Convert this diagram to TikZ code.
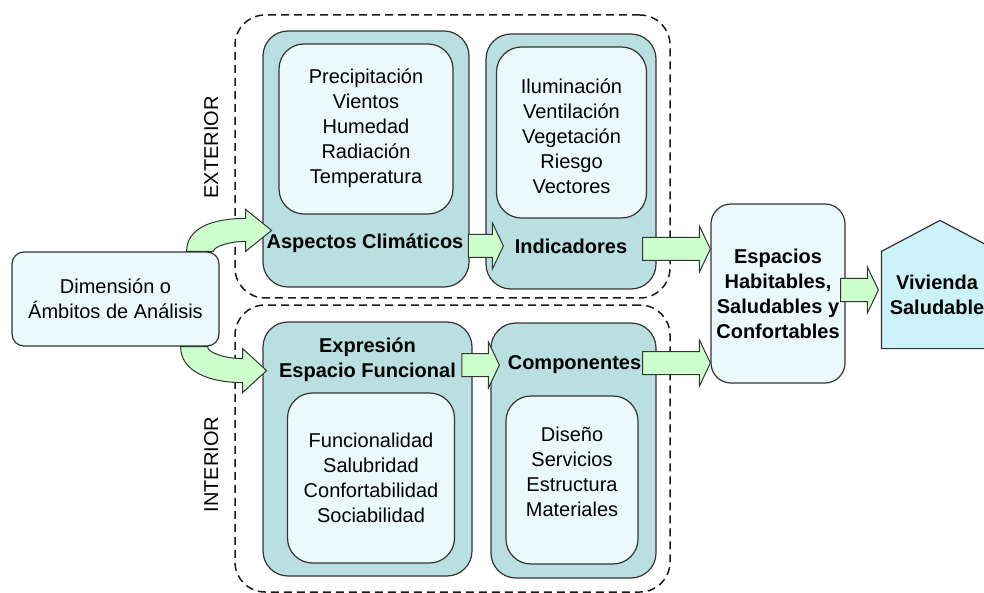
\documentclass[tikz,border=0pt]{standalone}
\usepackage{fontspec}
\setmainfont{Liberation Sans}
\usetikzlibrary{calc}

\definecolor{tealbox}{HTML}{B9DFE1}
\definecolor{lightbox}{HTML}{EBF9FD}
\definecolor{arrgreen}{HTML}{CCFFCC}
\definecolor{housecol}{HTML}{CCF3F9}

\newcommand{\blockarrow}[2]{%
    \draw[greenarr] let \p1=(#1), \p2=(#2) in
        (\x1,\y1+11.5pt) -- (\x2-11pt,\y1+11.5pt) -- (\x2-11pt,\y1+23pt) -- (\x2,\y1)
        -- (\x2-11pt,\y1-23pt) -- (\x2-11pt,\y1-11.5pt) -- (\x1,\y1-11.5pt) -- cycle;}

\begin{document}
\begin{tikzpicture}[x=1pt,y=-1pt,line width=1.2pt,
        font=\fontsize{20}{25}\selectfont,
        zone/.style={draw=black!90,line width=1.5pt,dash pattern=on 8pt off 5pt,rounded corners=30pt,inner sep=0pt},
        outer/.style={draw=black!80,fill=tealbox,rounded corners=25pt,inner sep=0pt},
        inner/.style={draw=black!80,fill=lightbox,rounded corners=25pt,inner sep=0pt},
        plain/.style={draw=black!80,fill=lightbox,align=center,inner sep=0pt},
        list/.style={align=center},
        bold/.style={align=center,font=\fontsize{20}{25}\selectfont\bfseries},
        greenarr/.style={draw=black!80,fill=arrgreen,line width=1pt}]
        \useasboundingbox (0,0) rectangle (984,593);
        \node[zone,minimum width=435pt,minimum height=283pt] (ext) at (452.5,156.5) {};
        \node[zone,minimum width=435pt,minimum height=287pt] (int) at (452.5,448.5) {};
        \node[rotate=90] (extlbl) at ($(ext.west)+(-23,-9)$) {EXTERIOR};
        \node[rotate=90] (intlbl) at ($(int.west)+(-23,16)$) {INTERIOR};

        \node[outer,minimum width=206pt,minimum height=256pt] (aspo) at (366,159) {};
        \node[inner,minimum width=174pt,minimum height=170pt] (aspi) at (366,129) {};
        \node[outer,minimum width=170pt,minimum height=255pt] (indo) at (571,161.5) {};
        \node[inner,minimum width=150pt,minimum height=171pt] (indi) at (571.5,132.5) {};
        \node[outer,minimum width=209pt,minimum height=254pt] (expo) at (367.5,449) {};
        \node[inner,minimum width=167pt,minimum height=170pt] (expi) at (371,478) {};
        \node[outer,minimum width=165pt,minimum height=255pt] (como) at (573.5,450.5) {};
        \node[inner,minimum width=132pt,minimum height=168pt] (comi) at (572,480) {};

        \node[list] (clima) at ($(aspi)+(0,-1)$) {Precipitación\\Vientos\\Humedad\\Radiación\\Temperatura};
        \node[list] (indic) at ($(indi)+(0,3.5)$) {Iluminación\\Ventilación\\Vegetación\\Riesgo\\Vectores};
        \node[list] (funci) at (expi) {Funcionalidad\\Salubridad\\Confortabilidad\\Sociabilidad};
        \node[list] (compi) at ($(comi)+(0,-8)$) {Diseño\\Servicios\\Estructura\\Materiales};

        \node[bold] (asplbl) at ($(aspo)+(-1,84)$) {Aspectos Climáticos};
        \node[bold] (indlbl) at ($(indo)+(0,84.5)$) {Indicadores};
        \node[bold] (explbl) at ($(expo)+(0,-89)$) {Expresión\\Espacio Funcional};
        \node[bold] (comlbl) at ($(como)+(1,-86)$) {Componentes};

        \node[plain,rounded corners=12pt,minimum width=207pt,minimum height=94pt] (dim) at (115.5,299) {Dimensión o\\Ámbitos de Análisis};
        \node[plain,bold,rounded corners=20pt,minimum width=134pt,minimum height=179pt] (esp) at (778,293.5) {Espacios\\Habitables,\\Saludables y\\Confortables};

        \node[minimum width=116pt,minimum height=96pt] (viv) at (940,300) {};
        \draw[draw=black!80,fill=housecol] (viv.south west) -- (viv.north west) -- ($(viv.north)+(0,-31)$)
            -- (viv.north east) -- (viv.south east) -- cycle;
        \node[bold] (vivlbl) at ($(viv)+(-3,-5)$) {Vivienda\\Saludable};

        \begin{scope}[shift={(dim.north east)}]
        \draw[greenarr] (-33,0) .. controls (-33,-22) and (-10,-33) .. (26,-33) -- (26,-42) -- (52,-21)
            -- (26,0) -- (26,-10) .. controls (10,-10) and (-6,-5) .. (-6,0) -- cycle;
        \end{scope}
        \begin{scope}[shift={(dim.south east)}]
        \draw[greenarr] (-39,0) .. controls (-39,25) and (-10,36) .. (23,36) -- (23,46) -- (47,24)
            -- (23,2) -- (23,12) .. controls (5,12) and (-12,6) .. (-12,0) -- cycle;
        \end{scope}

        \blockarrow{$(asplbl.east)+(1,3)$}{$(indo.west)+(18,0)$}
        \blockarrow{$(explbl.east)+(2,5)$}{$(como.west)+(9,0)$}
        \blockarrow{$(indo.east)+(-14,87.5)$}{esp.west}
        \blockarrow{$(como.east)+(-14,-87.5)$}{esp.west}
        \blockarrow{$(esp.east)+(-5,-3.5)$}{$(viv.west)+(-3,0)$}
    \end{tikzpicture}
\end{document}
